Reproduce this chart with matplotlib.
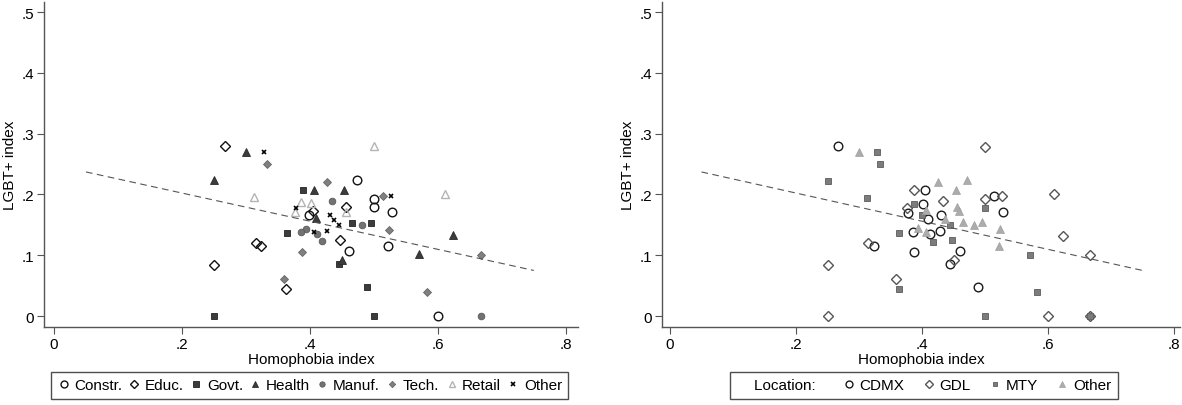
import matplotlib
matplotlib.use("Agg")
import matplotlib.pyplot as plt
from matplotlib.lines import Line2D

plt.rcParams["font.family"] = ["Liberation Sans", "DejaVu Sans"]

# left panel: firms by sector
constr_x = [0.473, 0.500, 0.500, 0.529, 0.399, 0.522, 0.461, 0.600]
constr_y = [0.223, 0.192, 0.179, 0.171, 0.167, 0.115, 0.107, 0.000]
educ_x = [0.267, 0.456, 0.405, 0.447, 0.316, 0.323, 0.250, 0.363]
educ_y = [0.279, 0.179, 0.173, 0.125, 0.120, 0.116, 0.084, 0.045]
govt_x = [0.389, 0.466, 0.495, 0.364, 0.445, 0.490, 0.250, 0.500]
govt_y = [0.208, 0.153, 0.153, 0.136, 0.086, 0.048, 0.000, 0.000]
health_x = [0.300, 0.250, 0.406, 0.454, 0.409, 0.624, 0.571, 0.450]
health_y = [0.270, 0.224, 0.208, 0.208, 0.161, 0.133, 0.102, 0.093]
manuf_x = [0.434, 0.482, 0.394, 0.386, 0.411, 0.419, 0.667]
manuf_y = [0.189, 0.149, 0.143, 0.138, 0.135, 0.123, 0.000]
tech_x = [0.333, 0.426, 0.514, 0.524, 0.388, 0.667, 0.360, 0.583]
tech_y = [0.250, 0.220, 0.198, 0.142, 0.106, 0.100, 0.061, 0.040]
retail_x = [0.500, 0.611, 0.312, 0.386, 0.401, 0.377, 0.457]
retail_y = [0.279, 0.201, 0.196, 0.187, 0.186, 0.171, 0.171]
sec_other_x = [0.328, 0.527, 0.378, 0.431, 0.437, 0.445, 0.427, 0.406]
sec_other_y = [0.270, 0.198, 0.177, 0.166, 0.158, 0.150, 0.140, 0.138]

# right panel: firms by location
cdmx_x = [0.267, 0.405, 0.514, 0.402, 0.529, 0.377, 0.430, 0.410,
          0.428, 0.386, 0.412, 0.324, 0.387, 0.461, 0.444, 0.489]
cdmx_y = [0.279, 0.207, 0.198, 0.184, 0.171, 0.169, 0.167, 0.160,
          0.140, 0.138, 0.135, 0.116, 0.106, 0.107, 0.086, 0.048]
gdl_x = [0.500, 0.388, 0.434, 0.500, 0.527, 0.376, 0.315, 0.250,
         0.359, 0.450, 0.250, 0.610, 0.624, 0.666, 0.600, 0.666]
gdl_y = [0.278, 0.208, 0.190, 0.192, 0.198, 0.178, 0.120, 0.084,
         0.061, 0.093, 0.000, 0.200, 0.132, 0.100, 0.000, 0.000]
mty_x = [0.328, 0.333, 0.250, 0.313, 0.387, 0.400, 0.444, 0.500,
         0.364, 0.418, 0.448, 0.364, 0.500, 0.571, 0.583, 0.666]
mty_y = [0.270, 0.250, 0.222, 0.194, 0.185, 0.166, 0.150, 0.178,
         0.136, 0.122, 0.125, 0.045, 0.000, 0.100, 0.040, 0.000]
loc_other_x = [0.300, 0.426, 0.472, 0.454, 0.456, 0.459, 0.406, 0.436,
               0.465, 0.482, 0.495, 0.524, 0.522, 0.394, 0.406]
loc_other_y = [0.270, 0.221, 0.224, 0.207, 0.180, 0.172, 0.174, 0.160,
               0.155, 0.150, 0.155, 0.143, 0.116, 0.145, 0.139]

# fitted line (same in both panels)
fit_x = [0.05, 0.75]
fit_y = [0.237, 0.075]

x_ticks = [0, 0.2, 0.4, 0.6, 0.8]
x_tick_labels = ["0", ".2", ".4", ".6", ".8"]
y_ticks = [0, 0.1, 0.2, 0.3, 0.4, 0.5]
y_tick_labels = ["0", ".1", ".2", ".3", ".4", ".5"]

FS = 11
AXIS_COLOR = "#555555"

# (x, y, label, marker, markersize, face, edge, edge width)
sector_series = [
    (constr_x, constr_y, "Constr.", "o", 6.2, "none", "#111111", 1.0),
    (educ_x, educ_y, "Educ.", "D", 5.6, "none", "#111111", 1.0),
    (govt_x, govt_y, "Govt.", "s", 4.6, "#3c3c3c", "#222222", 0.6),
    (health_x, health_y, "Health", "^", 5.4, "#3c3c3c", "#2a2a2a", 0.6),
    (manuf_x, manuf_y, "Manuf.", "o", 4.8, "#727272", "#5a5a5a", 0.6),
    (tech_x, tech_y, "Tech.", "D", 4.0, "#808080", "#666666", 0.6),
    (retail_x, retail_y, "Retail", "^", 6.0, "none", "#b4b4b4", 1.0),
    (sec_other_x, sec_other_y, "Other", "x", 3.4, "#000000", "#000000", 1.2),
]

location_series = [
    (cdmx_x, cdmx_y, "CDMX", "o", 6.2, "none", "#1a1a1a", 1.0),
    (gdl_x, gdl_y, "GDL", "D", 5.6, "none", "#555555", 1.0),
    (mty_x, mty_y, "MTY", "s", 4.4, "#7c7c7c", "#5c5c5c", 0.6),
    (loc_other_x, loc_other_y, "Other", "^", 5.2, "#acacac", "#a0a0a0", 0.5),
]


def style_axis(ax, xlim):
    ax.set_xlim(*xlim)
    ax.set_ylim(-0.018, 0.5165)
    ax.set_xticks(x_ticks, x_tick_labels)
    ax.set_yticks(y_ticks, y_tick_labels)
    for side in ("top", "right"):
        ax.spines[side].set_visible(False)
    for side in ("left", "bottom"):
        ax.spines[side].set_color(AXIS_COLOR)
        ax.spines[side].set_linewidth(1.0)
    ax.tick_params(direction="out", length=5, width=0.8, color=AXIS_COLOR,
                   labelsize=FS, pad=2)
    ax.set_xlabel("Homophobia index", fontsize=FS, labelpad=1)
    ax.set_ylabel("LGBT+ index", fontsize=FS, labelpad=3)


def draw_panel(ax, series):
    handles = []
    for x, y, label, marker, ms, face, edge, lw in series:
        (h,) = ax.plot(x, y, linestyle="none", marker=marker, markersize=ms,
                       markerfacecolor=face, markeredgecolor=edge,
                       markeredgewidth=lw, label=label, zorder=3)
        handles.append(h)
    ax.plot(fit_x, fit_y, color="#555555", linewidth=0.8,
            linestyle=(0, (6, 4)), zorder=4)
    return handles


def boxed_legend(handles, center_x, spacing):
    leg = fig.legend(handles=handles, ncol=len(handles), loc="center",
                     bbox_to_anchor=(center_x / 1182, 19.5 / 406),
                     frameon=True, fancybox=False, fontsize=FS,
                     handlelength=0.9, handletextpad=0.25, borderpad=0.4,
                     columnspacing=spacing, borderaxespad=0, markerscale=0.8)
    leg.get_frame().set_edgecolor("#222222")
    leg.get_frame().set_linewidth(1.0)
    return leg


fig = plt.figure(figsize=(11.82, 4.06), dpi=100)
ax_left = fig.add_axes([44 / 1182, 78 / 406, 534 / 1182, 325 / 406])
ax_right = fig.add_axes([662 / 1182, 78 / 406, 518 / 1182, 325 / 406])

left_handles = draw_panel(ax_left, sector_series)
right_handles = draw_panel(ax_right, location_series)
style_axis(ax_left, (-0.0156, 0.819))
style_axis(ax_right, (-0.0127, 0.8095))

boxed_legend(left_handles, 309.5, 0.35)
title_handle = Line2D([], [], linestyle="none", marker="none", label="Location:  ")
boxed_legend([title_handle] + right_handles, 924, 1.15)

fig.savefig("out.png", dpi=100)
